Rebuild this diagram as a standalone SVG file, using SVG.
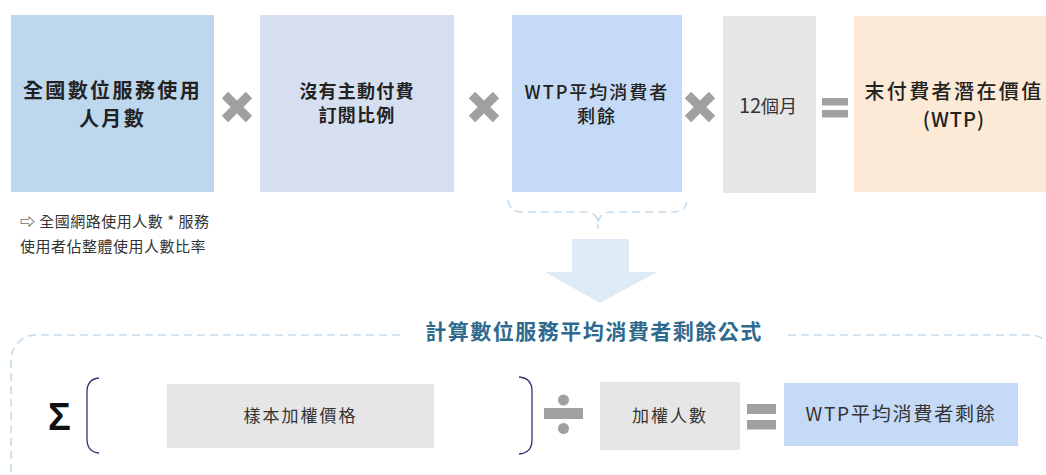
<svg xmlns="http://www.w3.org/2000/svg" width="1046" height="475" viewBox="0 0 1046 475">
<style>
text{font-family:"Noto Sans CJK TC","Noto Sans CJK SC","Liberation Sans",sans-serif;text-anchor:middle;fill:#222}
.b{font-weight:bold}
.m{font-weight:500}
.r{font-weight:normal;fill:#333}
.op{fill:#a0a0a0}
.x{stroke:#a0a0a0;stroke-width:9;stroke-linecap:butt}
.dash{fill:none;stroke:#c6dbeb;stroke-width:1.6;stroke-dasharray:8 5}
.br{fill:none;stroke:#2e3575;stroke-width:1.3}
</style>
<rect width="1046" height="475" fill="#ffffff"/>

<g id="node-users">
<rect x="11" y="15" width="203" height="177" fill="#bdd7ee"/>
<text class="b" x="112.5" y="98" font-size="20" letter-spacing="2.4">全國數位服務使用</text>
<text class="b" x="112.5" y="126" font-size="20" letter-spacing="2.4">人月數</text>
</g>
<g id="note-users">
<text class="r" x="20" y="227" font-size="15" letter-spacing="0.5" style="text-anchor:start">⇨ 全國網路使用人數 * 服務</text>
<text class="r" x="20" y="252" font-size="15" letter-spacing="0.5" style="text-anchor:start">使用者佔整體使用人數比率</text>
</g>
<g id="node-unpaid">
<rect x="260" y="15" width="194" height="177" fill="#d6dff0"/>
<text class="b" x="357" y="98" font-size="18" letter-spacing="1.2">沒有主動付費</text>
<text class="b" x="357" y="122" font-size="18" letter-spacing="1.2">訂閱比例</text>
</g>
<g id="node-wtp">
<rect x="512" y="15" width="170" height="177" fill="#c5daf6"/>
<text class="m" x="597" y="99" font-size="18" letter-spacing="2">WTP平均消費者</text>
<text class="m" x="597" y="123" font-size="18" letter-spacing="2">剩餘</text>
</g>
<g id="node-months">
<rect x="723" y="16" width="93" height="177" fill="#e6e6e6"/>
<text class="r" x="768" y="113" font-size="18"><tspan font-size="20">12</tspan>個月</text>
</g>
<g id="node-potential">
<rect x="854" y="16" width="200" height="176" fill="#fce9d6"/>
<text class="m" x="954" y="99" font-size="20" letter-spacing="2.4">末付費者潛在價值</text>
<text class="m" x="954" y="127" font-size="20" letter-spacing="1">(WTP)</text>
</g>

<g id="operators">
<path class="x" d="M225,95 L249,119 M249,95 L225,119"/>
<path class="x" d="M472,95 L496,119 M496,95 L472,119"/>
<path class="x" d="M688,95 L712,119 M712,95 L688,119"/>
<rect class="op" x="822" y="98" width="26" height="7.5"/>
<rect class="op" x="822" y="110" width="26" height="7.5"/>
<rect class="op" x="544" y="408" width="39" height="11"/>
<circle class="op" cx="563.5" cy="400" r="5.5"/>
<circle class="op" cx="563.5" cy="428.5" r="5.5"/>
<rect class="op" x="747" y="404" width="29" height="10"/>
<rect class="op" x="747" y="420" width="29" height="9.5"/>
</g>

<g id="connectors">
<path class="dash" d="M508,200 Q510,212 522,212 L584,212 Q597,212 598,222 L598,229 M598,222 Q600,212 613,212 L674,212 Q686,212 687,200"/>
<polygon points="572,239 629,239 629,272 657,272 600,303 545,272 572,272" fill="#deebf7"/>
</g>

<g id="formula-frame">
<path class="dash" d="M400,335 H36 A25,25 0 0 0 11,360 V480"/>
<path class="dash" d="M788,335 H1030 A25,25 0 0 1 1055,360 V480"/>
<text class="b" x="594" y="339" font-size="21" letter-spacing="1.5" style="fill:#2e6a8e">計算數位服務平均消費者剩餘公式</text>
</g>

<g id="formula-sigma">
<text class="b" x="59.5" y="430" font-size="38" style="font-family:'Liberation Sans',sans-serif;fill:#111">Σ</text>
<path class="br" d="M99,378 Q87,379 87,392 V439 Q87,452 99,453"/>
<path class="br" d="M519,377 Q532,378 532,391 V440 Q532,453 519,454"/>
</g>
<g id="node-sample">
<rect x="167" y="384" width="267" height="64" fill="#e6e6e6"/>
<text class="r" x="300.5" y="422" font-size="17" letter-spacing="2">樣本加權價格</text>
</g>
<g id="node-weighted">
<rect x="600" y="382" width="140" height="68" fill="#e6e6e6"/>
<text class="r" x="670" y="422" font-size="17" letter-spacing="2">加權人數</text>
</g>
<g id="node-result">
<rect x="784" y="383" width="234" height="63" fill="#c5daf6"/>
<text class="r" x="901" y="421" font-size="19" letter-spacing="1.8">WTP平均消費者剩餘</text>
</g>
</svg>
